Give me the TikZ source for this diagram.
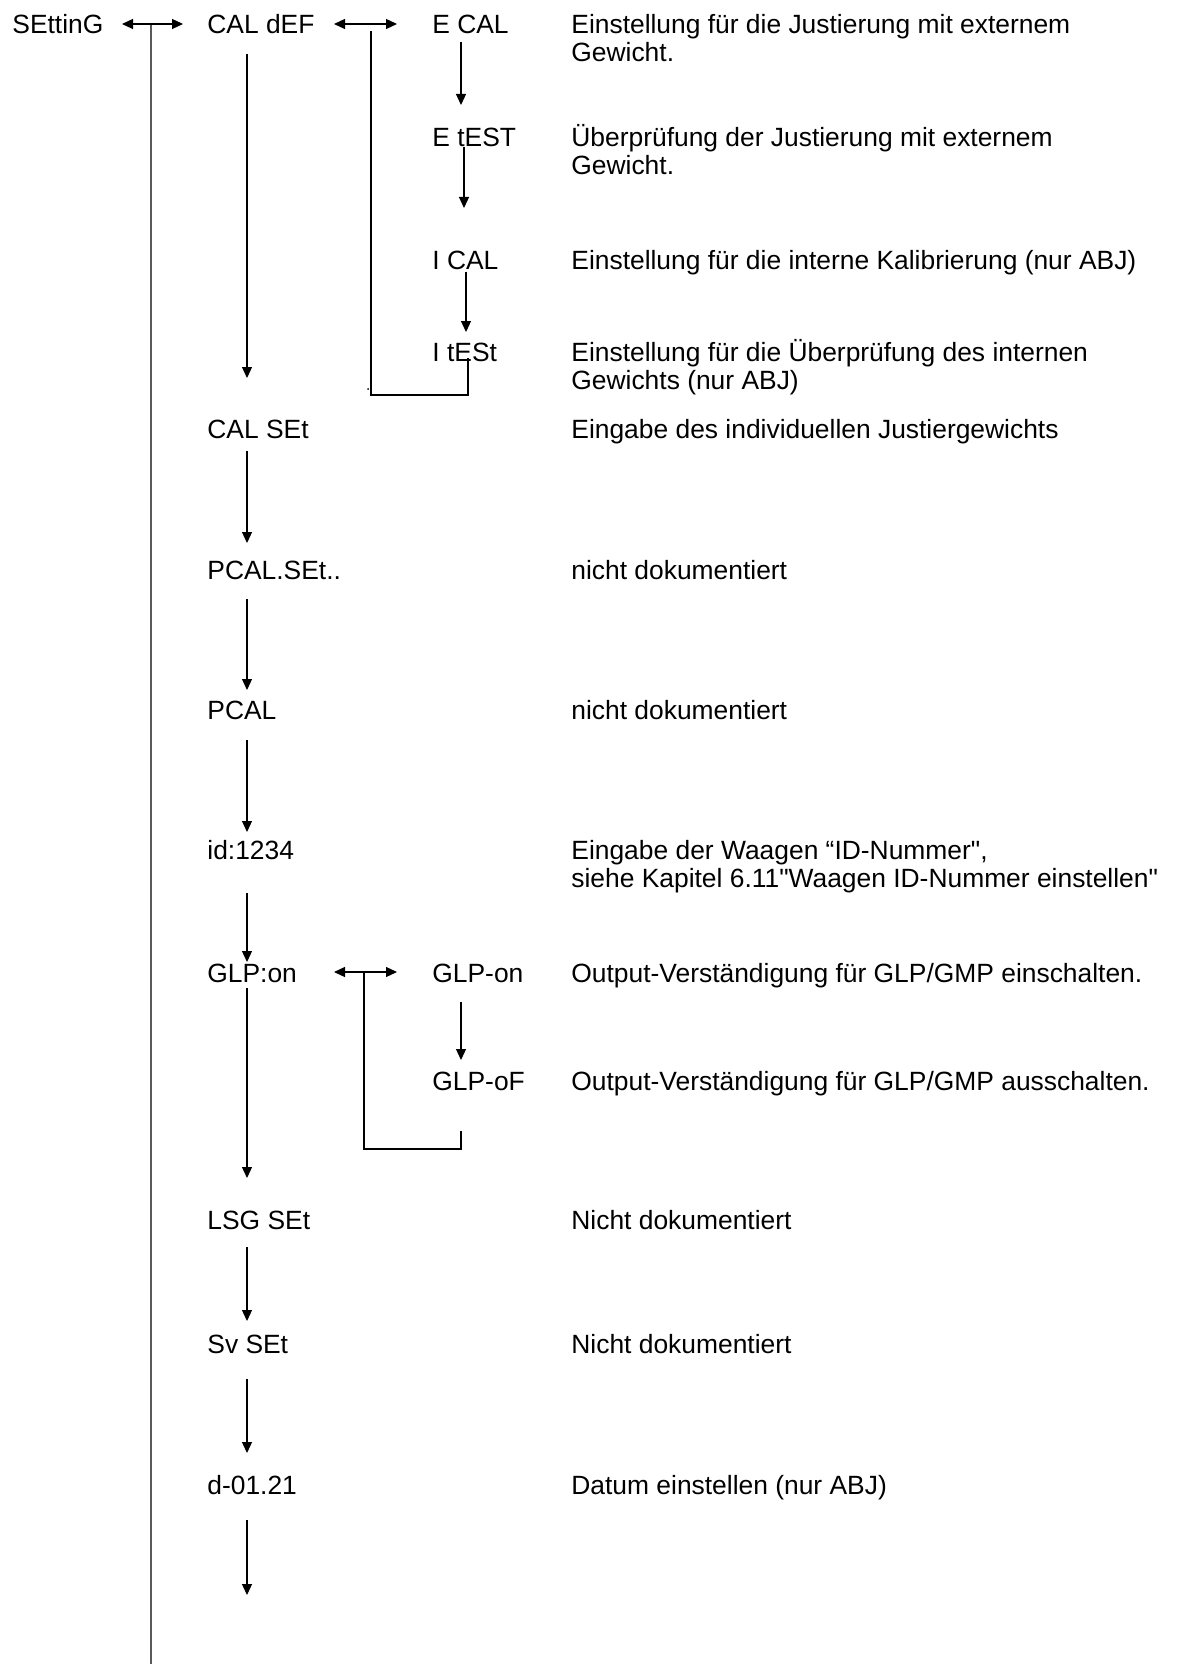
\documentclass[tikz,border=0pt]{standalone}
\usepackage{fontspec}
\setmainfont{Liberation Sans}[Ligatures=TeXOff]
\usetikzlibrary{arrows.meta,calc}
\begin{document}
\begin{tikzpicture}[x=0.5pt,y=-0.5pt,
  lbl/.style={anchor=base west,inner sep=0pt,font=\fontsize{13.2}{14}\selectfont},
  desc/.style={lbl,align=left},
  arr/.style={-{Triangle[length=5.5pt,width=5pt]},line width=0.6pt},
  darr/.style={{Triangle[length=5.5pt,width=5pt]}-{Triangle[length=5.5pt,width=5pt]},line width=0.6pt},
  br/.style={line width=0.6pt},
  mainline/.style={line width=1pt,draw=black!65}]
\useasboundingbox (0,0) rectangle (1181,1664);
% column coordinates
\coordinate (cA) at (247,0);
\coordinate (cB1) at (461,0);
\coordinate (cB2) at (464,0);
\coordinate (cB3) at (466,0);
\coordinate (mx) at (151,0);
\coordinate (ax1) at (122,0);
\coordinate (ax2) at (183,0);
\coordinate (bx1) at (334,0);
\coordinate (bx2) at (397,0);
\coordinate (kx1) at (371,0);
\coordinate (kx2) at (468,0);
\coordinate (gx1) at (364,0);
\coordinate (gx2) at (461,0);
\coordinate (bottom) at (0,1664);
% left column
\node[lbl] (setting) at (12,34) {SEttinG};
% second column
\node[lbl] (caldef) at (207,34) {CAL dEF};
\node[lbl] (calset) at (207,438) {CAL SEt};
\node[lbl] (pcalset) at (207,579) {PCAL.SEt..};
\node[lbl] (pcal) at (207,719) {PCAL};
\node[lbl] (id) at (207,859) {id:1234};
\node[lbl] (glpon) at (207,982) {GLP:on};
\node[lbl] (lsgset) at (207,1229) {LSG SEt};
\node[lbl] (svset) at (207,1353) {Sv SEt};
\node[lbl] (dat) at (207,1494) {d-01.21};
% third column
\node[lbl] (ecal) at (432,34) {E CAL};
\node[lbl] (etest) at (432,147) {E tEST};
\node[lbl] (ical) at (432,270) {I CAL};
\node[lbl] (itest) at (432,361) {I tESt};
\node[lbl] (glpon2) at (432,982) {GLP-on};
\node[lbl] (glpof) at (432,1090) {GLP-oF};
% descriptions (two-line ones are placed by the baseline of their last line)
\node[desc] (d1) at (571,62) {Einstellung für die Justierung mit externem\\Gewicht.};
\node[desc] (d2) at (571,175) {Überprüfung der Justierung mit externem\\Gewicht.};
\node[desc] (d3) at (571,270) {Einstellung für die interne Kalibrierung (nur ABJ)};
\node[desc] (d4) at (571,389) {Einstellung für die Überprüfung des internen\\Gewichts (nur ABJ)};
\node[desc] (d5) at (571,438) {Eingabe des individuellen Justiergewichts};
\node[desc] (d6) at (571,579) {nicht dokumentiert};
\node[desc] (d7) at (571,719) {nicht dokumentiert};
\node[desc] (d8) at (571,887) {Eingabe der Waagen “ID-Nummer",\\siehe Kapitel 6.11"Waagen ID-Nummer einstellen"};
\node[desc] (d9) at (571,982) {Output-Verständigung für GLP/GMP einschalten.};
\node[desc] (d10) at (571,1090) {Output-Verständigung für GLP/GMP ausschalten.};
\node[desc] (d11) at (571,1229) {Nicht dokumentiert};
\node[desc] (d12) at (571,1353) {Nicht dokumentiert};
\node[desc] (d13) at (571,1494) {Datum einstellen (nur ABJ)};
% main return line
\coordinate (j1) at ($(setting.base -| mx)+(0,-10)$);
\draw[mainline] (j1) -- (j1 |- bottom);
% double arrows
\draw[darr] ($(setting.base -| ax1)+(0,-10)$) -- ($(caldef.base -| ax2)+(0,-10)$);
\draw[darr] ($(caldef.base -| bx1)+(0,-10)$) -- ($(ecal.base -| bx2)+(0,-10)$);
\draw[darr] ($(glpon.base -| bx1)+(0,-10)$) -- ($(glpon2.base -| bx2)+(0,-10)$);
% column A arrows
\draw[arr] ($(caldef.base -| cA)+(0,20)$) -- ($(calset.base -| cA)+(0,-60)$);
\draw[arr] ($(calset.base -| cA)+(0,13)$) -- ($(pcalset.base -| cA)+(0,-36)$);
\draw[arr] ($(pcalset.base -| cA)+(0,20)$) -- ($(pcal.base -| cA)+(0,-29)$);
\draw[arr] ($(pcal.base -| cA)+(0,21)$) -- ($(id.base -| cA)+(0,-27)$);
\draw[arr] ($(id.base -| cA)+(0,34)$) -- ($(glpon.base -| cA)+(0,-20)$);
\draw[arr] ($(glpon.base -| cA)+(0,6)$) -- ($(lsgset.base -| cA)+(0,-51)$);
\draw[arr] ($(lsgset.base -| cA)+(0,18)$) -- ($(svset.base -| cA)+(0,-32)$);
\draw[arr] ($(svset.base -| cA)+(0,26)$) -- ($(dat.base -| cA)+(0,-41)$);
\coordinate (endA) at ($(dat.base -| cA)+(0,101)$);
\draw[arr] ($(dat.base -| cA)+(0,26)$) -- (endA);
% column B arrows
\draw[arr] ($(ecal.base -| cB1)+(0,8)$) -- ($(etest.base -| cB1)+(0,-42)$);
\draw[arr] ($(etest.base -| cB2)+(0,0)$) -- ($(ical.base -| cB2)+(0,-62)$);
\draw[arr] ($(ical.base -| cB3)+(0,2)$) -- ($(itest.base -| cB3)+(0,-29)$);
\draw[arr] ($(glpon2.base -| cB1)+(0,20)$) -- ($(glpof.base -| cB1)+(0,-30)$);
% return brackets
\draw[br] ($(caldef.base -| kx1)+(0,-3)$) |- ($(itest.base -| kx2)+(0,34)$) -- ($(itest.base -| kx2)+(0,-3)$);
\fill (368,389) circle (0.5pt);
\draw[br] ($(glpon.base -| gx1)+(0,-10)$) |- ($(glpof.base -| gx2)+(0,59)$) -- ($(glpof.base -| gx2)+(0,41)$);
\end{tikzpicture}
\end{document}
